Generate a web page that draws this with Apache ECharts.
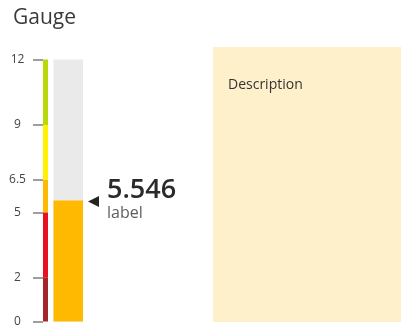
<!DOCTYPE html>
<html>
<head>
<meta charset="utf-8">
<style>
  html, body { margin: 0; padding: 0; background: #ffffff; }
  #chart { width: 402px; height: 329px; }
</style>
<script src="https://cdn.jsdelivr.net/npm/echarts@6/dist/echarts.min.js"></script>
</head>
<body>
<div id="chart"></div>
<script>
// Gauge reading and scale
const gaugeValue = 5.546;
const gaugeLabel = 'label';
const scaleMin = 0;
const scaleMax = 12;
const tickValues = [0, 2, 5, 6.5, 9, 12];

// Colour bands along the scale: [from, to]
const bandRanges = [[0, 2], [2, 5], [5, 6.5], [6.5, 9], [9, 12]];
const bandColors = ['#a4262c', '#e81123', '#ffb900', '#fff100', '#bad80a'];

const fillColor = '#ffb900';
const trackColor = '#eaeaea';

const chart = echarts.init(document.getElementById('chart'), null, { renderer: 'canvas' });

const font = '"Segoe UI", "Open Sans", "Noto Sans", sans-serif';

chart.setOption({
  animation: false,
  title: {
    text: 'Gauge',
    left: 8,
    top: 3,
    textStyle: { fontFamily: font, fontSize: 21, fontWeight: 'normal', color: '#3a3a3a' }
  },
  grid: { left: 43, top: 59.5, width: 40, height: 262 },
  xAxis: { type: 'value', min: 0, max: 40, show: false },
  yAxis: {
    type: 'value',
    min: scaleMin,
    max: scaleMax,
    axisLine: { show: false },
    splitLine: { show: false },
    axisTick: {
      show: true,
      length: 10,
      customValues: tickValues,
      lineStyle: { color: '#9e9e9e', width: 2 }
    },
    axisLabel: {
      customValues: tickValues,
      align: 'center',
      margin: 25.5,
      fontFamily: font,
      fontSize: 12,
      color: '#444444'
    }
  },
  series: [
    {
      // coloured band strip next to the ticks
      type: 'custom',
      data: bandRanges.map((r, i) => [r[0], r[1], i]),
      renderItem: function (params, api) {
        const lo = api.coord([0, api.value(0)]);
        const hi = api.coord([5, api.value(1)]);
        return {
          type: 'rect',
          shape: { x: lo[0], y: hi[1], width: hi[0] - lo[0], height: lo[1] - hi[1] },
          style: { fill: bandColors[api.value(2)] }
        };
      }
    },
    {
      // track, filled portion, pointer and value text
      type: 'custom',
      data: [[gaugeValue]],
      renderItem: function (params, api) {
        const v = api.value(0);
        const top = api.coord([10.5, scaleMax]);
        const base = api.coord([40, scaleMin]);
        const lvl = api.coord([40, v]);
        const y = lvl[1];
        const px = base[0] + 5;
        return {
          type: 'group',
          children: [
            { type: 'rect', shape: { x: top[0], y: top[1], width: base[0] - top[0], height: base[1] - top[1] }, style: { fill: trackColor } },
            { type: 'rect', shape: { x: top[0], y: y, width: base[0] - top[0], height: base[1] - y }, style: { fill: fillColor } },
            { type: 'polygon', shape: { points: [[px, y + 1], [px + 11, y - 4.5], [px + 11, y + 6.5]] }, style: { fill: '#252423' } },
            { type: 'text', x: px + 19, y: y + 3, style: { text: String(v), font: '600 27px ' + font, fill: '#2b2a29', verticalAlign: 'bottom' } },
            { type: 'text', x: px + 19, y: y + 5, style: { text: gaugeLabel, font: '16px ' + font, fill: '#605e5c', verticalAlign: 'top' } }
          ]
        };
      }
    }
  ],
  graphic: [
    { type: 'rect', shape: { x: 213, y: 47, width: 188, height: 275 }, style: { fill: '#fff0cc' } },
    { type: 'text', x: 228, y: 78, style: { text: 'Description', font: '14px ' + font, fill: '#333333' } }
  ]
});
</script>
</body>
</html>
